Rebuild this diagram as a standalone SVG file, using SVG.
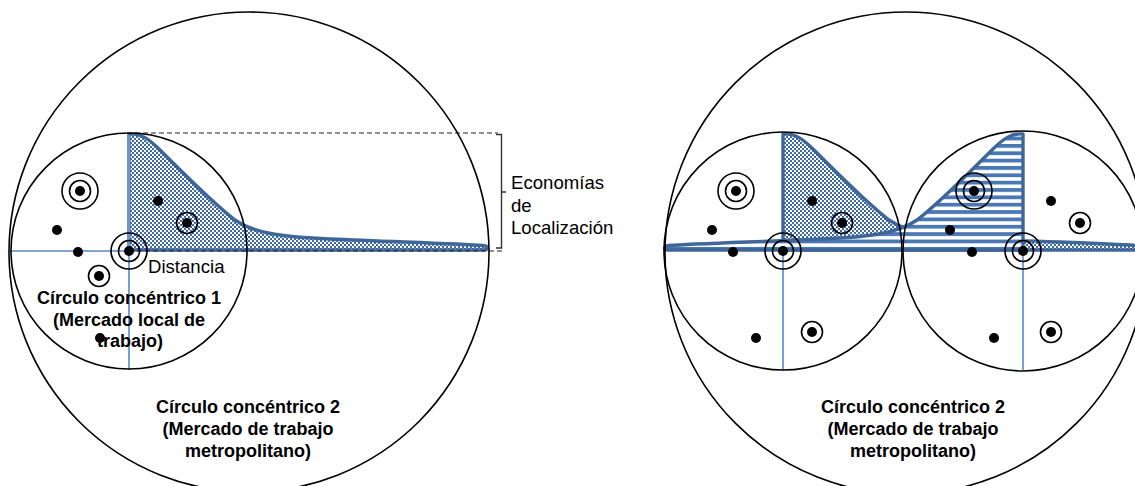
<svg xmlns="http://www.w3.org/2000/svg" width="1135" height="486" viewBox="0 0 1135 486">
<style>
.ring{fill:none;stroke:#000;stroke-width:1.6}
.dot{fill:#000}
.axis{fill:none;stroke:#5B88C4;stroke-width:1.6}
.lbl{font-family:"Liberation Sans",Arial,sans-serif;font-size:18.6px;fill:#000}
.bold{font-family:"Liberation Sans",Arial,sans-serif;font-size:18px;font-weight:bold;fill:#000;text-anchor:middle}
.dash{fill:none;stroke:#222;stroke-width:1.2;stroke-dasharray:5,3}
</style>
<defs>
<pattern id="chk" width="4" height="4" patternUnits="userSpaceOnUse">
<rect width="4" height="4" fill="#fff"/>
<rect width="2" height="2" fill="#3E6AA6"/>
<rect x="2" y="2" width="2" height="2" fill="#3E6AA6"/>
</pattern>
<pattern id="str" width="10" height="7.35" patternUnits="userSpaceOnUse" y="144">
<rect width="10" height="7.35" fill="#fff"/>
<rect width="10" height="3.8" fill="#4A78B4"/>
</pattern>
<path id="curve" d="M129,250 L129,134 C140,133 148,138 160,150 C180,170 215,205 235,220 C255,234 285,237 330,239 C400,242 460,244 483,245.5 C489,246 489,250 483,250 Z"/>
<g id="dtarget"><circle class="ring" r="18"/><circle class="ring" r="10.5"/><circle class="dot" r="5"/></g>
<g id="starget"><circle class="ring" r="10.5"/><circle class="dot" r="5"/></g>
</defs>

<!-- Left figure: economies curve -->
<g id="curve-left">
<use href="#curve" fill="url(#chk)" stroke="#3F6699" stroke-width="3.4" stroke-linejoin="round"/>
<line x1="129" y1="135" x2="129" y2="249" stroke="#6F95C8" stroke-width="2.6"/>
</g>

<!-- Right figure: two curves -->
<g id="curve-right-a">
<use href="#curve" transform="translate(654,0)" fill="url(#chk)" stroke="#3F6699" stroke-width="3.4" stroke-linejoin="round"/>
</g>
<g id="curve-right-b">
<use href="#curve" transform="translate(1152,0) scale(-1,1)" fill="url(#str)" stroke="#3F6699" stroke-width="3.4" stroke-linejoin="round"/>
</g>

<g id="connectors">
<path class="axis" d="M10,251 H129 V370"/>
<path class="axis" d="M783,252 V370"/>
<path class="axis" d="M1023,252 V370"/>
<path class="dash" d="M135,133 H498"/>
<path class="dash" d="M129,251 H503"/>
<path fill="none" stroke="#333" stroke-width="1.4" d="M496,134.5 H501.5 V248 H496 M501.5,192 H506"/>
</g>

<!-- Left figure circles -->
<g id="circulo-2-left"><circle class="ring" cx="249" cy="252" r="240"/></g>
<g id="circulo-1-left"><circle class="ring" cx="129" cy="251" r="118"/></g>
<g id="circulo-2-right"><circle class="ring" cx="906" cy="253" r="241"/></g>
<g id="circulo-1-right-a"><circle class="ring" cx="783" cy="251" r="119"/></g>
<g id="circulo-1-right-b"><circle class="ring" cx="1023" cy="251" r="120"/></g>

<!-- Left points -->
<g id="points-left">
<use href="#dtarget" x="80" y="191"/>
<circle class="dot" cx="57" cy="230" r="5"/>
<circle class="dot" cx="78" cy="252" r="5"/>
<use href="#dtarget" x="129" y="251"/>
<use href="#starget" x="99" y="276"/>
<circle class="dot" cx="158" cy="201" r="5"/>
<use href="#starget" x="187" y="223"/>
</g>

<!-- Right points -->
<g id="points-right-a">
<use href="#dtarget" x="736" y="191"/>
<circle class="dot" cx="712" cy="230" r="5"/>
<circle class="dot" cx="733" cy="252" r="5"/>
<use href="#dtarget" x="783" y="251"/>
<circle class="dot" cx="812" cy="201" r="5"/>
<use href="#starget" x="842" y="223"/>
<circle class="dot" cx="756" cy="338" r="5"/>
<use href="#starget" x="812" y="332"/>
</g>
<g id="points-right-b">
<use href="#dtarget" x="974" y="191"/>
<circle class="dot" cx="950" cy="230" r="5"/>
<circle class="dot" cx="972" cy="252" r="5"/>
<use href="#dtarget" x="1023" y="251"/>
<circle class="dot" cx="1051" cy="201" r="5"/>
<use href="#starget" x="1080" y="223"/>
<circle class="dot" cx="994" cy="338" r="5"/>
<use href="#starget" x="1051" y="332"/>
</g>

<!-- Labels -->
<g id="label-economias">
<text class="lbl" x="511" y="189">Economías</text>
<text class="lbl" x="511" y="211.5">de</text>
<text class="lbl" x="511" y="234">Localización</text>
</g>
<g id="label-distancia"><text class="lbl" x="148" y="273">Distancia</text></g>
<g id="label-circulo-1">
<text class="bold" x="129" y="304">Círculo concéntrico 1</text>
<text class="bold" x="129" y="325.5">(Mercado local de</text>
<text class="bold" x="130" y="347">trabajo)</text>
</g>
<circle class="dot" cx="100" cy="338" r="5"/>
<g id="label-circulo-2-left">
<text class="bold" x="248" y="413">Círculo concéntrico 2</text>
<text class="bold" x="248" y="435">(Mercado de trabajo</text>
<text class="bold" x="248" y="457">metropolitano)</text>
</g>
<g id="label-circulo-2-right">
<text class="bold" x="913" y="413">Círculo concéntrico 2</text>
<text class="bold" x="913" y="435">(Mercado de trabajo</text>
<text class="bold" x="913" y="457">metropolitano)</text>
</g>
</svg>
